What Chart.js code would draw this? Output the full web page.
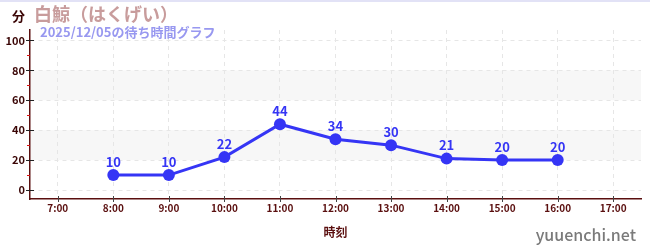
<!DOCTYPE html>
<html>
<head>
<meta charset="utf-8">
<script src="https://cdn.jsdelivr.net/npm/chart.js@4"></script>
<style>
  body { margin: 0; background: #fff; }
  canvas { display: block; }
</style>
</head>
<body>
<canvas id="waitChart" width="650" height="250"></canvas>
<script>
const hours = ['7:00', '8:00', '9:00', '10:00', '11:00', '12:00', '13:00', '14:00', '15:00', '16:00', '17:00'];
const waitMinutes = [null, 10, 10, 22, 44, 34, 30, 21, 20, 20, null];
const yTicks = [0, 20, 40, 60, 80, 100];
const minorTicks = [10, 30, 50, 70, 90];
const bands = [[20, 40], [60, 80]];

const titleText = '白鯨（はくげい）';
const subtitleText = '2025/12/05の待ち時間グラフ';
const unitText = '分';
const xTitle = '時刻';
const siteText = 'yuuenchi.net';

const FONT = '"Noto Sans CJK JP", "Noto Sans", sans-serif';
const BLUE = '#3535f5';
const MAROON = '#5a0f0f';

const decorPlugin = {
    id: 'decor',
    beforeDraw(chart) {
        const { ctx, chartArea: area, scales: { y } } = chart;
        ctx.save();
        ctx.fillStyle = '#f7f7f7';
        bands.forEach(function (b) {
            const top = y.getPixelForValue(b[1]);
            const bottom = y.getPixelForValue(b[0]);
            ctx.fillRect(area.left, top, area.right - area.left, bottom - top);
        });
        ctx.restore();
    },
    afterDraw(chart) {
        const { ctx, chartArea: area, scales: { x, y } } = chart;
        ctx.save();
        // top border
        ctx.fillStyle = '#e2e2f6';
        ctx.fillRect(0, 0, chart.width, 2);

        // minor ticks on y axis
        ctx.strokeStyle = '#dd1111';
        ctx.lineWidth = 1;
        minorTicks.forEach(function (v) {
            const py = Math.round(y.getPixelForValue(v)) + 0.5;
            ctx.beginPath();
            ctx.moveTo(area.left - 3, py);
            ctx.lineTo(area.left, py);
            ctx.stroke();
        });
        // major ticks on y axis
        ctx.strokeStyle = '#222';
        yTicks.forEach(function (v) {
            const py = Math.round(y.getPixelForValue(v)) + 0.5;
            ctx.beginPath();
            ctx.moveTo(area.left - 4, py);
            ctx.lineTo(area.left + 4, py);
            ctx.stroke();
        });
        // ticks on x axis
        ctx.strokeStyle = '#444';
        hours.forEach(function (h, i) {
            const px = Math.round(x.getPixelForValue(i)) + 0.5;
            ctx.beginPath();
            ctx.moveTo(px, area.bottom - 3);
            ctx.lineTo(px, area.bottom + 3);
            ctx.stroke();
        });

        // texts
        ctx.textBaseline = 'alphabetic';
        ctx.textAlign = 'left';
        ctx.fillStyle = '#3a0505';
        ctx.font = 'bold 13px ' + FONT;
        ctx.fillText(unitText, 12, 21);
        ctx.fillStyle = '#c89c9c';
        ctx.font = 'bold 18px ' + FONT;
        ctx.fillText(titleText, 34, 21);
        ctx.fillStyle = '#9898f0';
        ctx.font = 'bold 13px ' + FONT;
        ctx.fillText(subtitleText, 40, 37);

        ctx.textAlign = 'right';
        ctx.fillStyle = '#7a7a7a';
        ctx.font = '500 16px ' + FONT;
        ctx.fillText(siteText, 636, 241);
        ctx.restore();
    },
    afterDatasetsDraw(chart) {
        const { ctx } = chart;
        const meta = chart.getDatasetMeta(0);
        ctx.save();
        ctx.fillStyle = BLUE;
        ctx.font = 'bold 13px ' + FONT;
        ctx.textAlign = 'center';
        ctx.textBaseline = 'bottom';
        meta.data.forEach(function (pt, i) {
            const v = waitMinutes[i];
            if (v === null) return;
            ctx.fillText(String(v), pt.x, pt.y - 7);
        });
        ctx.restore();
    }
};

new Chart(document.getElementById('waitChart'), {
    type: 'line',
    data: {
        labels: hours,
        datasets: [{
            data: waitMinutes,
            borderColor: BLUE,
            backgroundColor: BLUE,
            borderWidth: 3,
            pointRadius: 6,
            pointHoverRadius: 6,
            pointBorderWidth: 0,
            tension: 0,
            spanGaps: false
        }]
    },
    options: {
        responsive: false,
        animation: false,
        layout: { padding: { top: 30, right: 9, left: 0, bottom: 0 } },
        plugins: {
            legend: { display: false },
            tooltip: { enabled: false }
        },
        scales: {
            x: {
                type: 'category',
                offset: true,
                grid: { color: '#e6e6e6', offset: false, drawTicks: false },
                border: { color: MAROON, width: 1.5, dash: [4, 4] },
                ticks: {
                    color: MAROON,
                    padding: 3,
                    maxRotation: 0,
                    autoSkip: false,
                    font: { family: FONT, size: 10, weight: 'bold' }
                },
                title: {
                    display: true,
                    text: xTitle,
                    color: MAROON,
                    padding: { top: 0, bottom: 10 },
                    font: { family: FONT, size: 12, weight: 'bold' }
                },
                afterFit(scale) { scale.height = 51; }
            },
            y: {
                min: -6,
                max: 107,
                grid: { color: '#e6e6e6', drawTicks: false },
                border: { color: MAROON, width: 1.5, dash: [4, 4] },
                ticks: {
                    stepSize: 20,
                    color: '#3a0505',
                    padding: 5,
                    font: { family: FONT, size: 11, weight: 'bold' }
                },
                afterBuildTicks(scale) {
                    scale.ticks = yTicks.map(function (v) { return { value: v }; });
                },
                afterFit(scale) { scale.width = 30; }
            }
        }
    },
    plugins: [decorPlugin]
});
</script>
</body>
</html>
